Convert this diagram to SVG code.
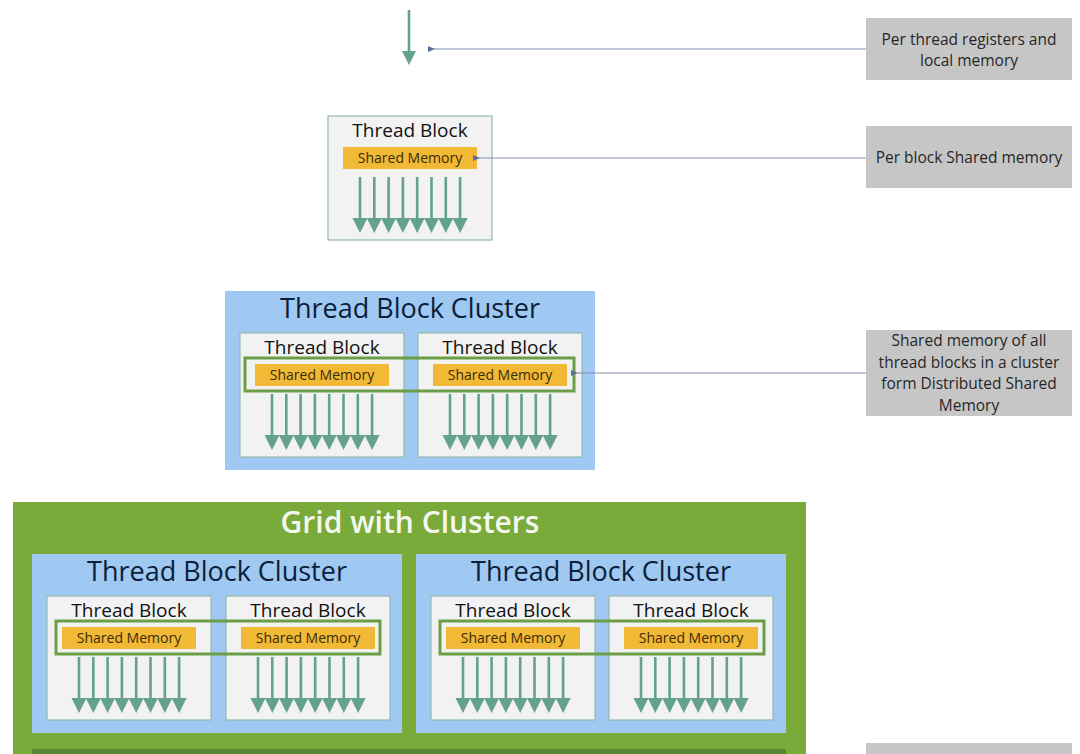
<svg xmlns="http://www.w3.org/2000/svg" xmlns:xlink="http://www.w3.org/1999/xlink" width="1080" height="754" viewBox="0 0 1080 754">
<style>
.tb{fill:#f1f2f1;stroke:#94b9ad;stroke-width:1.2}
.sm{fill:#f1b935}
.cl{fill:#9fc8f3}
.tbt{font-family:"Open Sans","Liberation Sans",sans-serif;font-size:19px;fill:#111;text-anchor:middle}
.smt{font-family:"Open Sans","Liberation Sans",sans-serif;font-size:14px;fill:#3a2c08;text-anchor:middle}
.clt{font-family:"Open Sans","Liberation Sans",sans-serif;font-size:27px;fill:#0c1e38;text-anchor:middle}
.grt{font-family:"Open Sans","Liberation Sans",sans-serif;font-size:30px;font-weight:600;fill:#f4f8ee;text-anchor:middle}
.note{fill:#c6c6c6}
.nt{font-family:"Open Sans","Liberation Sans",sans-serif;font-size:15.5px;fill:#262626;text-anchor:middle}
.dsm{fill:none;stroke:#6b9e47;stroke-width:3}
.ptr{stroke:#8090b4;stroke-width:1;fill:none}
.thl{stroke:#64a28c;stroke-width:2.6}
.thh{fill:#64a28c}
</style>
<defs>
<marker id="ah" markerWidth="8" markerHeight="8" refX="1" refY="3" orient="auto" markerUnits="userSpaceOnUse">
<path d="M7,0 L0,3 L7,6 Z" fill="#5b6e9c"/>
</marker>
<g id="thr">
<g class="thl">
<line x1="32" y1="61" x2="32" y2="104"/><line x1="46.3" y1="61" x2="46.3" y2="104"/><line x1="60.6" y1="61" x2="60.6" y2="104"/><line x1="74.9" y1="61" x2="74.9" y2="104"/><line x1="89.2" y1="61" x2="89.2" y2="104"/><line x1="103.5" y1="61" x2="103.5" y2="104"/><line x1="117.8" y1="61" x2="117.8" y2="104"/><line x1="132.1" y1="61" x2="132.1" y2="104"/>
</g>
<g class="thh">
<polygon points="24.5,102 39.5,102 32,117"/><polygon points="38.8,102 53.8,102 46.3,117"/><polygon points="53.1,102 68.1,102 60.6,117"/><polygon points="67.4,102 82.4,102 74.9,117"/><polygon points="81.7,102 96.7,102 89.2,117"/><polygon points="96,102 111,102 103.5,117"/><polygon points="110.3,102 125.3,102 117.8,117"/><polygon points="124.6,102 139.6,102 132.1,117"/>
</g>
</g>
<g id="tbbody">
<rect class="tb" x="0" y="0" width="164" height="124"/>
<rect class="sm" x="15" y="31" width="134" height="22"/>
<use xlink:href="#thr" href="#thr"/>
</g>
</defs>

<!-- Single thread -->
<g id="thread">
<line class="thl" x1="409" y1="10" x2="409" y2="53"/>
<polygon class="thh" points="402,51 416,51 409,65"/>
</g>

<!-- Single thread block -->
<g id="tb-single" transform="translate(328,116)">
<use xlink:href="#tbbody" href="#tbbody"/>
<text class="tbt" x="82" y="21">Thread Block</text>
<text class="smt" x="82" y="47">Shared Memory</text>
</g>

<!-- Cluster -->
<g id="cluster">
<rect class="cl" x="225" y="291" width="370" height="179"/>
<text class="clt" x="410" y="318">Thread Block Cluster</text>
<g id="cluster-tb1" transform="translate(240,333)">
<use xlink:href="#tbbody" href="#tbbody"/>
<text class="tbt" x="82" y="21">Thread Block</text>
<text class="smt" x="82" y="47">Shared Memory</text>
</g>
<g id="cluster-tb2" transform="translate(418,333)">
<use xlink:href="#tbbody" href="#tbbody"/>
<text class="tbt" x="82" y="21">Thread Block</text>
<text class="smt" x="82" y="47">Shared Memory</text>
</g>
<rect class="dsm" x="245" y="358" width="329" height="33"/>
</g>

<!-- Grid -->
<g id="grid">
<rect x="13" y="502" width="793" height="252" fill="#7aaa3a"/>
<rect x="32" y="749" width="754" height="5" fill="#5a8530"/>
<text class="grt" x="410" y="533">Grid with Clusters</text>
<g id="grid-cluster1">
<rect class="cl" x="32" y="554" width="370" height="179"/>
<text class="clt" x="217" y="581">Thread Block Cluster</text>
<g id="g1-tb1" transform="translate(47,596)">
<use xlink:href="#tbbody" href="#tbbody"/>
<text class="tbt" x="82" y="21">Thread Block</text>
<text class="smt" x="82" y="47">Shared Memory</text>
</g>
<g id="g1-tb2" transform="translate(226,596)">
<use xlink:href="#tbbody" href="#tbbody"/>
<text class="tbt" x="82" y="21">Thread Block</text>
<text class="smt" x="82" y="47">Shared Memory</text>
</g>
<rect class="dsm" x="56" y="621" width="324" height="33"/>
</g>
<g id="grid-cluster2">
<rect class="cl" x="416" y="554" width="370" height="179"/>
<text class="clt" x="601" y="581">Thread Block Cluster</text>
<g id="g2-tb1" transform="translate(431,596)">
<use xlink:href="#tbbody" href="#tbbody"/>
<text class="tbt" x="82" y="21">Thread Block</text>
<text class="smt" x="82" y="47">Shared Memory</text>
</g>
<g id="g2-tb2" transform="translate(609,596)">
<use xlink:href="#tbbody" href="#tbbody"/>
<text class="tbt" x="82" y="21">Thread Block</text>
<text class="smt" x="82" y="47">Shared Memory</text>
</g>
<rect class="dsm" x="440" y="621" width="324" height="33"/>
</g>
</g>

<!-- Notes -->
<g id="note-thread">
<rect class="note" x="866" y="18" width="206" height="62"/>
<text class="nt" x="969" y="45">Per thread registers and</text>
<text class="nt" x="969" y="66">local memory</text>
</g>
<g id="note-block">
<rect class="note" x="866" y="126" width="206" height="62"/>
<text class="nt" x="969" y="163">Per block Shared memory</text>
</g>
<g id="note-cluster">
<rect class="note" x="866" y="330" width="206" height="86"/>
<text class="nt" x="969" y="346">Shared memory of all</text>
<text class="nt" x="969" y="368">thread blocks in a cluster</text>
<text class="nt" x="969" y="389">form Distributed Shared</text>
<text class="nt" x="969" y="411">Memory</text>
</g>
<g id="note-grid">
<rect class="note" x="866" y="743" width="206" height="11"/>
</g>

<!-- Connectors -->
<g id="connectors">
<line class="ptr" x1="866" y1="49" x2="434" y2="49" marker-end="url(#ah)"/>
<line class="ptr" x1="866" y1="158" x2="479" y2="158" marker-end="url(#ah)"/>
<line class="ptr" x1="866" y1="373" x2="577" y2="373" marker-end="url(#ah)"/>
</g>
</svg>
